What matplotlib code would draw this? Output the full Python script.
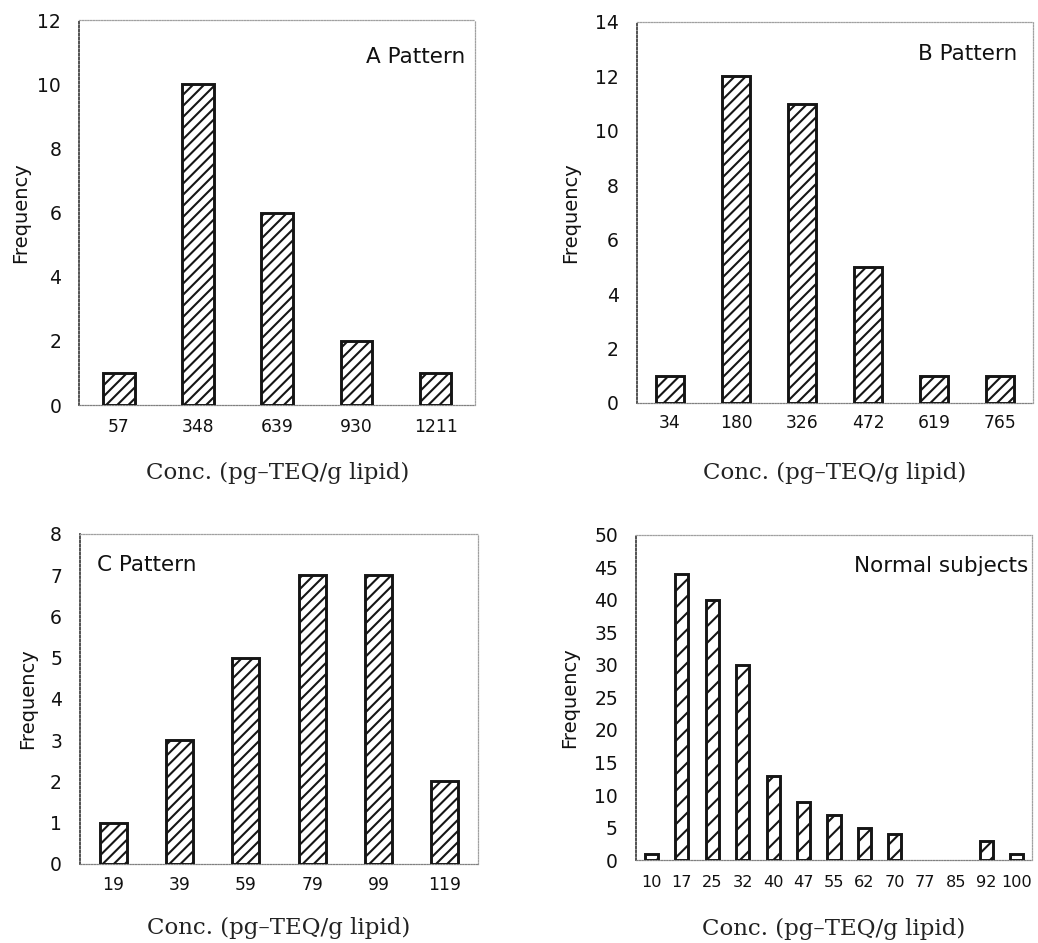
import matplotlib
matplotlib.use("Agg")
import matplotlib.pyplot as plt
import numpy as np

plt.rcParams["font.family"] = ["DejaVu Sans"]
plt.rcParams["hatch.linewidth"] = 1.5

# Frequency distributions of TEQ concentration for each group
a_bins = ["57", "348", "639", "930", "1211"]
a_freq = [1, 10, 6, 2, 1]

b_bins = ["34", "180", "326", "472", "619", "765"]
b_freq = [1, 12, 11, 5, 1, 1]

c_bins = ["19", "39", "59", "79", "99", "119"]
c_freq = [1, 3, 5, 7, 7, 2]

n_bins = ["10", "17", "25", "32", "40", "47", "55", "62", "70", "77", "85", "92", "100"]
n_freq = [1, 44, 40, 30, 13, 9, 7, 5, 4, 0, 0, 3, 1]

xlabel_text = "Conc. (pg–TEQ/g lipid)"

fig = plt.figure(figsize=(10.38, 9.43), dpi=100)

panels = [
    dict(bins=a_bins, freq=a_freq, title="A Pattern",
         rect=[0.0763, 0.5705, 0.3815, 0.4080], ymax=12, ystep=2, width=0.40,
         hatch="///", tpos=(0.975, 0.888, "right"), ylx=-0.124, xly=-0.148,
         xpad=9, xsize=12.3),
    dict(bins=b_bins, freq=b_freq, title="B Pattern",
         rect=[0.6137, 0.5727, 0.3815, 0.4040], ymax=14, ystep=2, width=0.41,
         hatch="///", tpos=(0.96, 0.900, "right"), ylx=-0.143, xly=-0.155,
         xpad=8, xsize=12.3),
    dict(bins=c_bins, freq=c_freq, title="C Pattern",
         rect=[0.0771, 0.0838, 0.3834, 0.3500], ymax=8, ystep=1, width=0.41,
         hatch="///", tpos=(0.043, 0.888, "left"), ylx=-0.108, xly=-0.161,
         xpad=8.5, xsize=12.3),
    dict(bins=n_bins, freq=n_freq, title="Normal subjects",
         rect=[0.6127, 0.0880, 0.3815, 0.3447], ymax=50, ystep=5, width=0.43,
         hatch="//", tpos=(0.99, 0.886, "right"), ylx=-0.144, xly=-0.178,
         xpad=10.5, xsize=11.6),
]

for p in panels:
    ax = fig.add_axes(p["rect"])
    x = np.arange(len(p["bins"]))
    freq = np.asarray(p["freq"])
    # empty classes get no bar outline
    filled = freq > 0
    ax.bar(x[filled], freq[filled], width=p["width"], color="white",
           edgecolor="#151515", linewidth=2.1, hatch=p["hatch"], zorder=3)

    ax.set_xlim(-0.5, len(p["bins"]) - 0.5)
    ax.set_ylim(0, p["ymax"])
    ax.set_xticks(x)
    ax.set_xticklabels(p["bins"])
    ax.set_yticks(np.arange(0, p["ymax"] + 0.1, p["ystep"]))

    ax.tick_params(axis="y", length=0, pad=13, labelsize=13.5, labelcolor="#111111")
    ax.tick_params(axis="x", length=0, pad=p["xpad"], labelsize=p["xsize"],
                   labelcolor="#111111")

    # dotted frame: darker on the left, lighter elsewhere
    for side, sp in ax.spines.items():
        sp.set_linestyle((0, (1, 1.2)))
        sp.set_linewidth(0.9)
        sp.set_color("#a0a0a0")
    ax.spines["left"].set_color("#444444")
    ax.spines["left"].set_linewidth(1.3)
    ax.spines["bottom"].set_color("#808080")

    ax.set_ylabel("Frequency", fontsize=14, color="#111111")
    ax.yaxis.set_label_coords(p["ylx"], 0.5)

    ax.set_xlabel(xlabel_text, family="DejaVu Serif", fontsize=16.5,
                  color="#222222")
    ax.xaxis.set_label_coords(0.5, p["xly"])

    tx, ty, ha = p["tpos"]
    ax.text(tx, ty, p["title"], transform=ax.transAxes, ha=ha,
            va="baseline", fontsize=15.5, color="#111111")

fig.savefig("out.png", dpi=100, facecolor="white")
